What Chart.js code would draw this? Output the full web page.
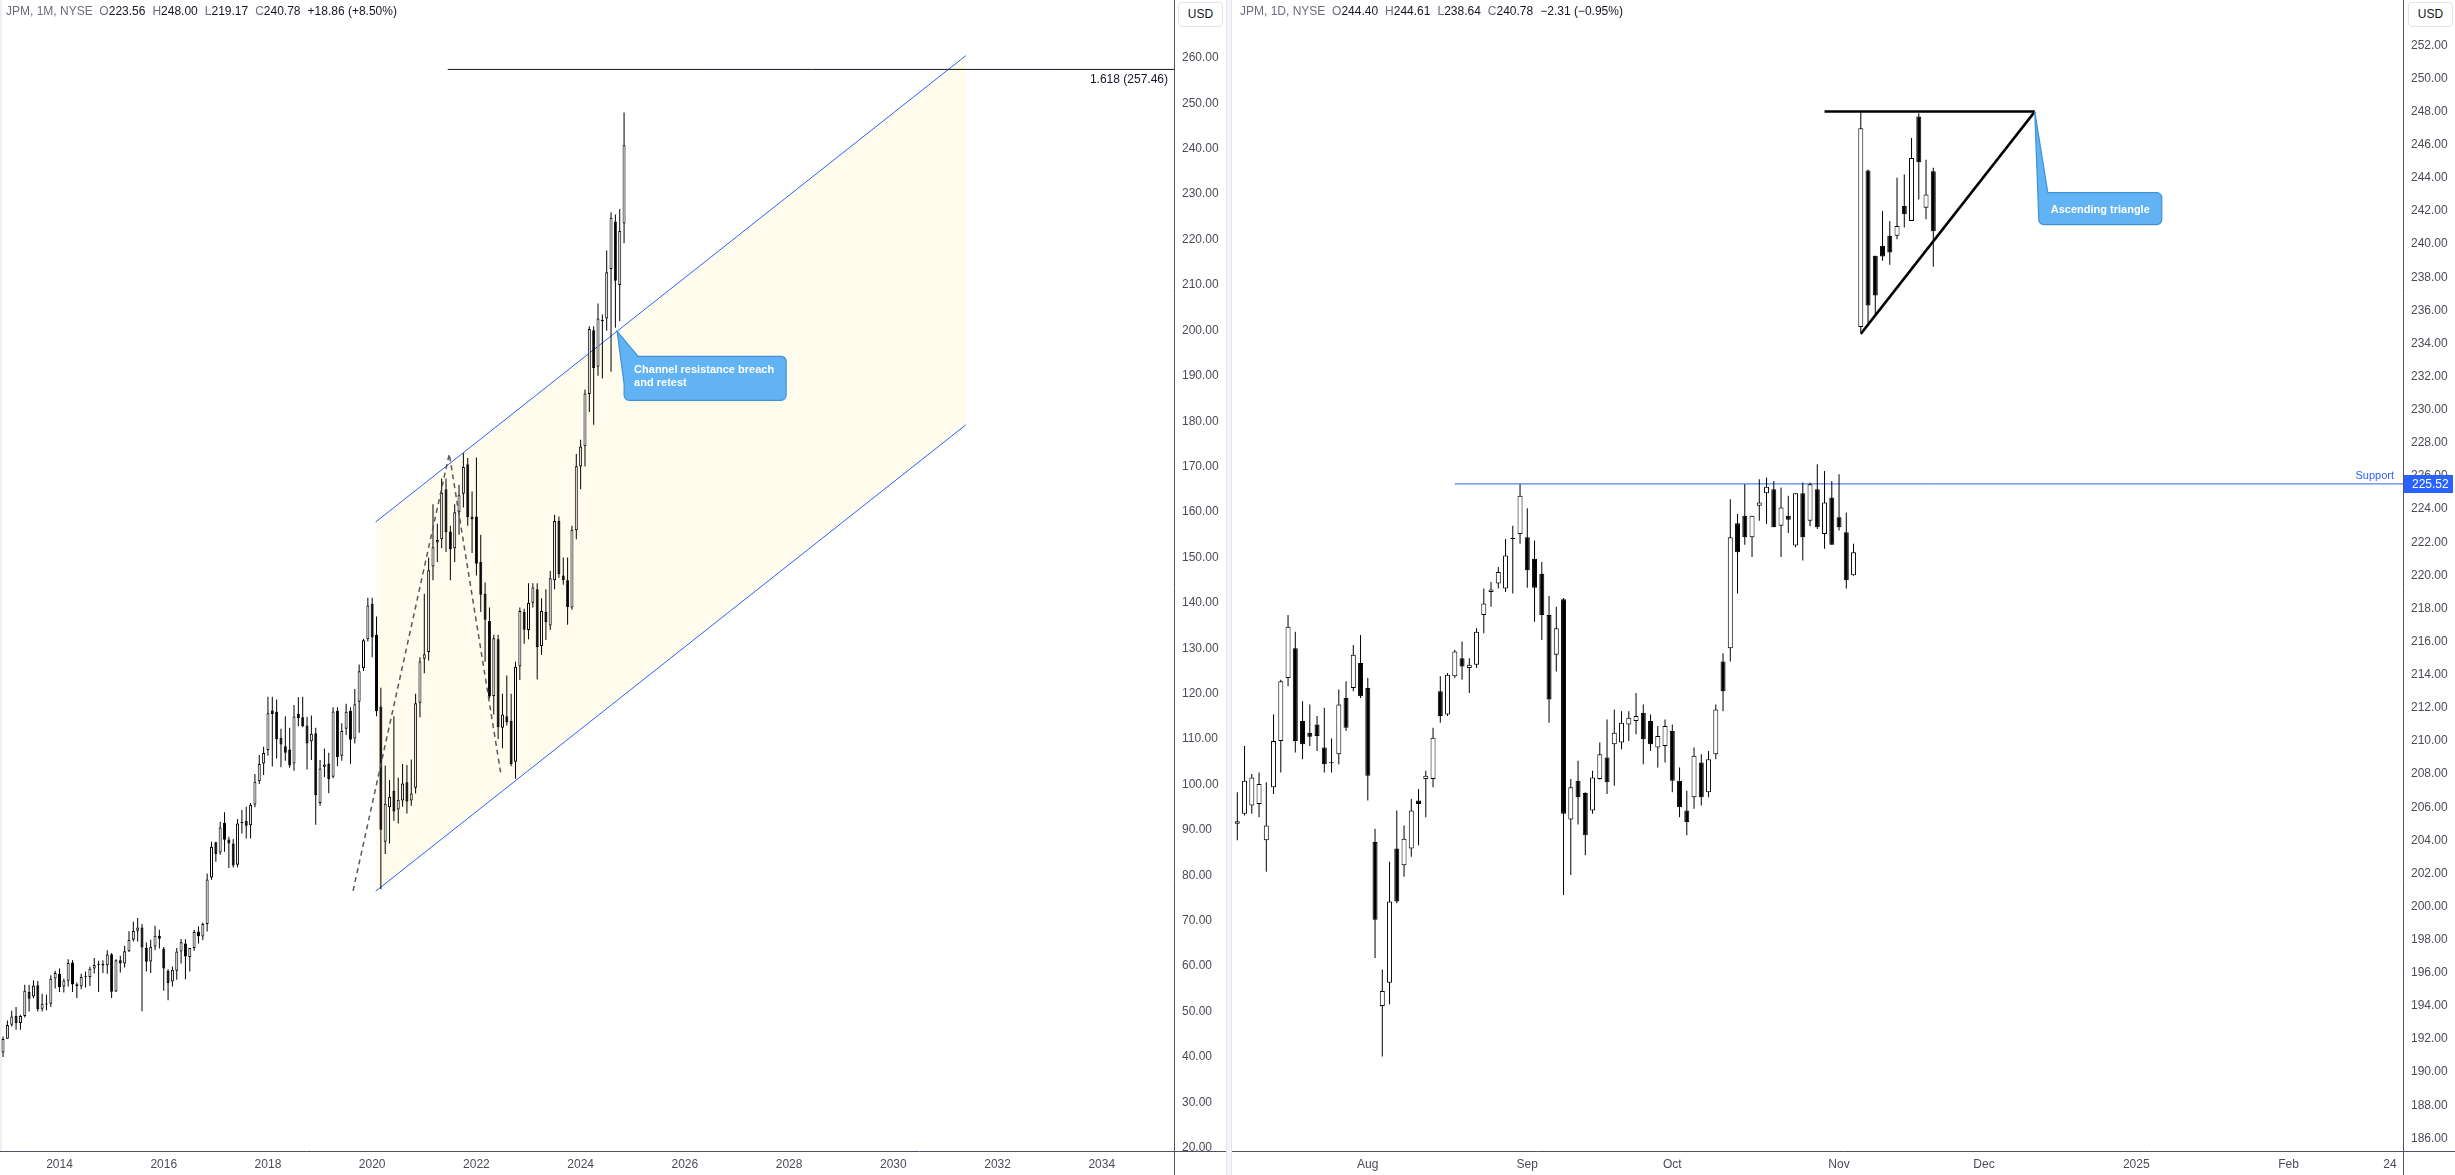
<!DOCTYPE html>
<html>
<head>
<meta charset="utf-8">
<title>JPM monthly and daily</title>
<script src="https://cdn.jsdelivr.net/npm/chart.js@4.4.1/dist/chart.umd.min.js"></script>
<style>
  html, body { margin: 0; padding: 0; background: #fff; }
  body { width: 2455px; height: 1175px; position: relative; overflow: hidden; font-family: "Liberation Sans", Arial, sans-serif; }
  canvas { position: absolute; top: 0; }
  #cLeft { left: 0; }
  #cRight { left: 1232px; }
  .sep { position: absolute; left: 1226px; top: 0; width: 4px; height: 1175px; background: #f4f5f9; border-left: 1px solid #e0e3eb; border-right: 1px solid #e0e3eb; }
  .edge { position: absolute; left: 0; top: 0; width: 2px; height: 1151px; background: #eef0f6; }
  .hdr { position: absolute; top: 4px; font-size: 12px; line-height: 14px; color: #131722; white-space: nowrap; }
  .hdr span { margin-right: 7px; }
  .hdr .g { color: #6a6d78; margin-right: 0; }
  .usd { position: absolute; top: 2px; width: 45px; height: 25px; border: 1px solid #e0e3eb; border-radius: 4px; box-sizing: border-box; font-size: 12px; line-height: 23px; text-align: center; color: #131722; background: #fff; }
</style>
</head>
<body>
<div class="edge"></div>
<div class="sep"></div>
<canvas id="cLeft" width="1226" height="1175"></canvas>
<canvas id="cRight" width="1223" height="1175"></canvas>
<div class="hdr" style="left:6px"><span class="g">JPM, 1M, NYSE</span>&nbsp; <span><b class="g" style="font-weight:normal">O</b>223.56</span><span><b class="g" style="font-weight:normal">H</b>248.00</span><span><b class="g" style="font-weight:normal">L</b>219.17</span><span><b class="g" style="font-weight:normal">C</b>240.78</span><span>+18.86 (+8.50%)</span></div>
<div class="hdr" style="left:1240px"><span class="g">JPM, 1D, NYSE</span>&nbsp; <span><b class="g" style="font-weight:normal">O</b>244.40</span><span><b class="g" style="font-weight:normal">H</b>244.61</span><span><b class="g" style="font-weight:normal">L</b>238.64</span><span><b class="g" style="font-weight:normal">C</b>240.78</span><span>&minus;2.31 (&minus;0.95%)</span></div>
<div class="usd" style="left:1178px">USD</div>
<div class="usd" style="left:2408px">USD</div>
<script>
// ---------- Monthly JPM candles, Dec 2012 to Nov 2024 ----------
const mOpen = [41.0,
  44.0,47.1,49.0,47.5,49.0,54.3,53.3,55.8,50.6,51.6,51.7,57.3,
  58.3,55.5,56.8,60.8,56.0,55.5,57.7,57.6,59.5,60.3,60.5,60.2,
  62.6,54.4,61.3,60.6,63.3,65.8,67.8,68.5,64.0,61.0,64.3,66.7,
  63.9,59.0,56.6,59.0,63.2,65.0,62.0,64.0,67.6,66.5,69.3,79.5,
  87.3,85.0,91.5,87.9,87.0,82.3,91.5,92.0,91.0,95.6,100.7,104.6,
  107.6,116.3,116.0,110.3,108.4,107.7,104.6,115.5,114.8,113.0,109.5,111.3,
  95.9,103.9,104.6,101.7,116.2,106.3,112.3,116.2,110.1,118.2,125.6,132.0,
  139.8,133.0,117.2,87.4,95.0,98.6,94.5,96.5,100.5,96.5,99.3,118.0,
  127.7,129.2,148.0,153.3,154.0,165.0,155.7,152.0,160.0,164.0,170.5,159.0,
  159.0,149.0,142.0,136.0,119.5,132.0,112.5,115.0,114.0,105.0,126.0,138.0,
  134.0,140.0,143.0,130.5,138.0,135.0,145.0,158.0,146.0,145.0,139.0,156.0,
  170.0,174.5,186.0,200.0,192.0,202.0,202.6,213.5,224.0,210.0,223.56];
const mHigh = [44.5,
  48.0,50.2,51.0,49.3,55.9,55.9,56.9,56.7,53.9,53.7,58.0,59.0,
  59.5,57.3,61.5,61.3,56.4,58.3,58.8,59.9,61.8,61.2,61.3,63.5,
  62.9,61.5,62.3,64.5,67.7,69.8,70.6,69.3,65.2,65.8,68.9,68.0,
  64.2,59.3,59.9,64.0,66.0,65.9,64.0,68.0,68.8,69.6,80.4,87.4,
  87.4,91.8,93.9,88.5,88.0,92.4,94.4,95.1,95.9,102.3,106.5,108.3,
  119.3,119.3,118.7,112.3,115.0,112.5,117.5,119.2,119.3,114.9,115.2,112.5,
  105.4,107.9,107.0,117.0,117.0,113.5,117.8,117.0,121.0,126.4,132.1,141.1,
  141.1,137.0,121.3,104.2,101.0,115.0,101.5,104.5,104.3,105.5,120.0,128.0,
  142.0,150.0,161.7,157.4,167.4,167.4,157.0,161.7,166.0,172.96,171.9,164.5,
  172.0,155.0,144.5,139.0,133.0,133.0,120.0,124.0,120.0,127.0,139.0,138.7,
  144.3,144.3,144.3,141.0,143.0,147.0,159.4,159.0,150.0,150.0,157.0,172.8,
  175.9,187.0,200.9,200.9,205.9,203.5,217.6,226.0,225.5,226.7,248.0];
const mLow = [40.0,
  44.0,46.7,46.0,46.0,48.7,50.0,52.9,50.0,50.0,50.3,51.0,55.1,
  54.3,54.2,55.5,54.3,53.0,54.9,55.3,55.6,58.4,54.3,58.5,58.3,
  52.97,54.3,58.6,59.7,63.1,65.4,65.4,50.07,58.8,58.5,63.5,63.9,
  54.6,52.5,55.5,57.0,60.6,57.1,58.8,63.4,65.0,65.7,67.6,79.0,
  83.0,84.5,85.2,81.6,81.7,81.8,89.2,88.1,88.1,95.0,100.1,102.1,
  106.3,103.98,105.7,103.8,105.2,103.7,103.0,112.8,112.6,103.3,105.4,91.11,
  95.3,101.6,98.09,101.4,104.0,105.2,110.9,104.5,109.0,111.4,125.0,131.5,
  128.0,115.0,76.91,84.7,87.0,92.0,91.4,95.1,93.6,95.3,98.0,114.8,
  124.5,127.3,145.0,149.0,152.0,151.2,145.0,149.0,155.0,161.0,157.0,151.0,
  146.0,138.0,127.0,119.0,115.4,110.0,108.0,113.0,104.0,101.28,123.0,131.0,
  132.0,139.0,123.1,128.5,131.8,134.0,143.0,145.5,144.0,135.2,138.5,154.0,
  165.0,170.0,182.0,179.2,190.0,189.4,199.9,190.9,200.6,202.0,219.17];
const mClose = [43.97,
  47.05,48.9,47.46,49.0,54.59,52.79,55.73,50.53,51.69,51.54,57.22,58.48,
  55.36,56.82,60.71,55.98,55.57,57.62,57.67,59.45,60.24,60.48,60.16,62.58,
  54.38,61.28,60.58,63.26,65.78,67.76,68.53,64.12,60.97,64.25,66.68,66.03,
  59.5,56.3,59.22,63.2,65.27,62.14,63.97,67.5,66.59,69.26,79.08,86.29,
  84.63,90.5,87.84,87.0,82.15,91.4,91.8,90.89,95.51,100.61,104.52,106.94,
  115.67,115.5,109.97,108.78,107.01,104.2,114.95,114.58,112.84,109.02,111.17,97.62,
  103.5,104.4,101.23,116.05,105.97,111.8,116.0,109.86,117.69,124.92,131.77,139.4,
  132.36,116.11,90.03,95.76,97.31,94.06,96.64,100.19,96.27,98.04,117.88,127.07,
  128.67,147.17,152.23,153.81,164.24,155.54,151.78,159.95,163.69,169.89,158.83,158.35,
  148.6,141.8,136.3,119.4,132.2,112.6,115.4,113.7,104.5,125.9,138.2,134.1,
  140.0,143.4,130.3,138.2,135.7,145.4,158.0,146.3,145.0,139.1,156.1,170.1,
  174.4,186.1,200.3,191.7,202.6,202.3,212.8,224.8,210.9,221.9,240.78];
// month slot of each candle, counted from Jan 2014 (Dec 2012 = -13)
const mSlot = mOpen.map((_, i) => i - 13);

// ---------- Daily JPM candles, 8 Jul to 20 Nov 2024 ----------
const dDates = [
  '07-08','07-09','07-10','07-11','07-12','07-15','07-16','07-17','07-18','07-19','07-22','07-23','07-24','07-25','07-26','07-29','07-30','07-31',
  '08-01','08-02','08-05','08-06','08-07','08-08','08-09','08-12','08-13','08-14','08-15','08-16','08-19','08-20','08-21','08-22','08-23','08-26','08-27','08-28','08-29','08-30',
  '09-03','09-04','09-05','09-06','09-09','09-10','09-11','09-12','09-13','09-16','09-17','09-18','09-19','09-20','09-23','09-24','09-25','09-26','09-27','09-30',
  '10-01','10-02','10-03','10-04','10-07','10-08','10-09','10-10','10-11','10-14','10-15','10-16','10-17','10-18','10-21','10-22','10-23','10-24','10-25','10-28','10-29','10-30','10-31',
  '11-01','11-04','11-05','11-06','11-07','11-08','11-11','11-12','11-13','11-14','11-15','11-18','11-19','11-20'];
const dOpen = [205.0,205.6,206.1,206.2,204.0,207.2,210.0,213.8,215.6,211.2,210.5,211.0,209.6,208.65,209.2,212.6,213.2,214.7,
  213.2,203.9,194.0,195.4,203.5,202.5,203.5,206.4,207.7,207.7,213.0,211.6,213.9,215.0,214.4,214.6,217.6,219.0,219.5,219.2,222.2,222.5,
  222.3,221.0,220.1,217.6,215.2,218.56,205.25,207.6,206.85,205.8,207.7,209.0,209.8,209.9,211.0,211.2,211.7,211.2,209.6,209.7,
  210.6,207.6,205.8,206.6,208.7,206.9,209.2,214.8,215.6,223.15,223.6,222.3,224.2,224.96,225.2,223.0,223.6,221.8,224.96,223.3,225.2,222.5,224.7,
  223.5,222.6,220.0,235.0,244.45,239.3,239.9,240.5,240.5,242.3,241.4,247.7,242.2,244.40];
const dHigh = [206.9,209.7,208.0,208.1,207.5,211.6,213.7,217.6,216.6,212.4,212.2,211.5,212.0,210.15,213.1,213.6,215.8,216.4,
  213.8,204.7,196.2,202.7,205.8,204.9,206.5,207.1,208.2,210.8,213.9,214.1,215.5,216.0,215.0,216.8,219.2,219.6,220.5,222.2,223.0,225.5,
  224.05,222.1,220.8,218.75,218.1,218.63,207.7,208.8,206.9,208.2,209.9,211.3,211.9,211.8,211.8,212.9,212.2,211.6,210.9,211.3,
  211.0,208.4,207.0,209.6,209.2,209.4,212.2,215.3,224.6,223.7,225.5,223.6,225.8,225.9,225.7,225.3,224.8,224.96,225.6,225.6,226.7,226.3,225.7,
  226.1,223.8,221.9,248.0,244.5,239.3,242.0,241.4,244.0,244.2,246.4,247.9,245.1,244.61];
const dLow = [204.0,205.5,205.6,205.4,202.1,206.8,208.1,213.3,209.3,208.9,209.7,209.4,208.1,208.1,208.6,210.6,213.0,212.6,
  206.4,196.9,190.95,194.1,200.2,201.8,203.0,203.7,205.4,207.2,211.1,211.5,213.8,213.7,212.9,214.4,216.5,218.1,219.2,219.0,218.9,221.9,
  219.25,217.2,216.1,211.1,214.2,200.7,201.9,204.95,203.1,205.6,207.66,206.8,207.3,209.5,210.0,210.4,208.6,209.4,208.4,208.7,
  206.9,205.4,204.3,205.9,206.1,206.6,208.9,211.8,214.8,218.9,221.85,221.1,223.3,223.1,222.9,221.1,222.55,221.7,220.9,222.97,222.8,221.6,221.85,
  222.7,219.2,219.97,234.7,235.2,235.7,239.0,238.75,240.3,241.0,241.4,242.7,241.5,238.64];
const dClose = [205.15,207.6,207.8,207.4,204.9,210.0,213.6,216.9,210.0,209.8,210.25,210.3,208.6,208.7,212.2,210.8,215.2,212.7,
  207.9,199.2,194.9,200.3,200.3,204.1,205.8,206.2,207.9,210.2,211.5,214.0,215.4,214.5,214.6,216.6,218.3,219.15,220.2,221.2,222.25,224.8,
  220.3,219.25,217.6,212.5,216.8,205.6,207.2,206.6,204.3,207.8,209.2,207.5,210.5,211.1,211.4,211.5,210.1,209.8,210.3,210.9,
  207.6,206.0,205.1,209.1,206.6,208.9,211.9,213.0,222.3,221.4,222.3,223.6,224.4,225.35,222.9,224.1,223.36,224.96,222.3,225.5,222.9,224.4,221.85,
  222.9,219.7,221.4,247.0,236.3,236.9,239.25,239.5,241.1,241.8,245.2,244.95,243.0,240.78];
// trading-day slot of each daily candle
const dSlot = dDates.map((_, i) => i);

// ---------- Axis ticks ----------
const leftPriceTicks = [20,30,40,50,60,70,80,90,100,110,120,130,140,150,160,170,180,190,200,210,220,230,240,250,260];
const leftTimeTicks = [0,24,48,72,96,120,144,168,192,216,240];
const leftTimeLabels = ['2014','2016','2018','2020','2022','2024','2026','2028','2030','2032','2034'];
const rightPriceTicks = [186,188,190,192,194,196,198,200,202,204,206,208,210,212,214,216,218,220,222,224,226,228,230,232,234,236,238,240,242,244,246,248,250,252];
const rightTimeTicks = [18,40,60,83,103,124,145,159];
const rightTimeLabels = ['Aug','Sep','Oct','Nov','Dec','2025','Feb','24'];

// ---------- Drawn studies ----------
const channelUpper = [{x:72.8, y:157.8}, {x:208.7, y:260.5}];
const channelLower = [{x:72.8, y:76.5}, {x:208.7, y:179.2}];
const swingPath = [{x:67.6, y:76.6}, {x:89.75, y:172.8}, {x:101.6, y:102.5}];
const fibLevel = 257.46;
const fibLine = [{x:89.4, y:fibLevel}, {x:400, y:fibLevel}];
const fibText = '1.618 (257.46)';
const retestPoint = {x:128.4, y:199.8};
const retestText = ['Channel resistance breach', 'and retest'];
const supportLevel = 225.52;
const supportLine = [{x:30, y:supportLevel}, {x:200, y:supportLevel}];
const triangleTop = [{x:81, y:248}, {x:110, y:248}];
const triangleRise = [{x:86, y:234.58}, {x:110, y:248}];
const triangleText = 'Ascending triangle';

Chart.defaults.font.family = '"Liberation Sans", Arial, sans-serif';
const AXIS_TEXT = '#4a4c55';
const LINE_BLUE = '#2962ff';

function candleSets(slots, O, H, L, C, bodyWidth) {
  const wicks = {
    type: 'bar', order: 2, grouped: false, inflateAmount: 0, minBarLength: 1,
    barThickness: 1, backgroundColor: '#000', borderWidth: 0,
    data: slots.map((x, i) => ({x, y: [L[i], H[i]]}))
  };
  const bodies = {
    type: 'bar', order: 1, grouped: false, inflateAmount: 0, minBarLength: 1,
    barThickness: bodyWidth, borderWidth: 1, borderColor: '#000', borderSkipped: false,
    backgroundColor: O.map((o, i) => C[i] >= o ? '#ffffff' : '#000000'),
    data: slots.map((x, i) => ({x, y: [Math.min(O[i], C[i]), Math.max(O[i], C[i])]}))
  };
  return [wicks, bodies];
}

function lineSet(points, color, width, order, extra) {
  return Object.assign({type: 'line', data: points, borderColor: color, borderWidth: width,
    pointRadius: 0, fill: false, order, tension: 0}, extra || {});
}

function axes(xr, yr, xTicks, xLabels, yTicks) {
  return {
    x: {
      type: 'linear', min: xr[0], max: xr[1], offset: false,
      grid: {display: false, drawTicks: false}, border: {display: false},
      ticks: {autoSkip: false, maxRotation: 0, minRotation: 0, padding: 6, color: AXIS_TEXT,
              font: {size: 12}, callback: (v, i) => xLabels[i]},
      afterBuildTicks: s => { s.ticks = xTicks.map(v => ({value: v})); },
      afterFit: s => { s.height = 24; s.paddingLeft = 0; s.paddingRight = 0; }
    },
    y: {
      type: 'linear', position: 'right', min: yr[0], max: yr[1],
      grid: {display: false, drawTicks: false}, border: {display: false},
      ticks: {padding: 8, color: AXIS_TEXT, font: {size: 12}, callback: v => v.toFixed(2)},
      afterBuildTicks: s => { s.ticks = yTicks.map(v => ({value: v})); },
      afterFit: s => { s.width = 52; s.paddingTop = 0; s.paddingBottom = 0; }
    }
  };
}

// axis frame: price-scale divider and time-scale divider
const frame = {
  id: 'frame',
  afterDraw(chart) {
    const {ctx, chartArea: a, width, height} = chart;
    ctx.save();
    ctx.fillStyle = '#fff';
    ctx.fillRect(a.right + 1, a.bottom + 1, width - a.right - 1, height - a.bottom - 1);
    ctx.strokeStyle = '#50535e';
    ctx.lineWidth = 1;
    ctx.beginPath();
    ctx.moveTo(Math.round(a.right) + 0.5, 0); ctx.lineTo(Math.round(a.right) + 0.5, height);
    ctx.moveTo(0, Math.round(a.bottom) + 0.5); ctx.lineTo(width, Math.round(a.bottom) + 0.5);
    ctx.stroke();
    ctx.restore();
  }
};

function callout(ctx, tip, box, tailTop, tailSide) {
  const {x, y, w, h} = box, r = 5;
  ctx.beginPath();
  ctx.moveTo(tip.x, tip.y);
  ctx.lineTo(x + tailTop, y);
  ctx.lineTo(x + w - r, y);
  ctx.arcTo(x + w, y, x + w, y + r, r);
  ctx.lineTo(x + w, y + h - r);
  ctx.arcTo(x + w, y + h, x + w - r, y + h, r);
  ctx.lineTo(x + r, y + h);
  ctx.arcTo(x, y + h, x, y + h - r, r);
  ctx.lineTo(x, y + tailSide);
  ctx.closePath();
  ctx.fillStyle = '#62b3f4';
  ctx.fill();
  ctx.strokeStyle = '#3d93d6';
  ctx.lineWidth = 1.2;
  ctx.stroke();
}

const leftNotes = {
  id: 'leftNotes',
  afterDatasetsDraw(chart) {
    const {ctx, scales: {x, y}, chartArea: a} = chart;
    ctx.save();
    ctx.font = '12px "Liberation Sans", Arial, sans-serif';
    ctx.fillStyle = '#131722';
    ctx.textAlign = 'right';
    ctx.textBaseline = 'middle';
    ctx.fillText(fibText, a.right - 6, y.getPixelForValue(fibLevel) + 10);

    const tip = {x: x.getPixelForValue(retestPoint.x), y: y.getPixelForValue(retestPoint.y)};
    const box = {x: tip.x + 7, y: tip.y + 25, w: 162, h: 44};
    callout(ctx, tip, box, 14, 28);
    ctx.fillStyle = '#fff';
    ctx.font = 'bold 11px "Liberation Sans", Arial, sans-serif';
    ctx.textAlign = 'left';
    ctx.fillText(retestText[0], box.x + 10, box.y + 14);
    ctx.fillText(retestText[1], box.x + 10, box.y + 27);
    ctx.restore();
  }
};

const rightNotes = {
  id: 'rightNotes',
  afterDatasetsDraw(chart) {
    const {ctx, scales: {x, y}, chartArea: a} = chart;
    ctx.save();
    const sy = y.getPixelForValue(supportLevel);
    ctx.font = '11px "Liberation Sans", Arial, sans-serif';
    ctx.fillStyle = LINE_BLUE;
    ctx.textAlign = 'right';
    ctx.textBaseline = 'middle';
    ctx.fillText('Support', a.right - 9, sy - 8);

    const apex = triangleTop[1];
    const tip = {x: x.getPixelForValue(apex.x), y: y.getPixelForValue(apex.y)};
    const box = {x: tip.x + 4, y: tip.y + 81, w: 123, h: 32};
    callout(ctx, tip, box, 9, 26);
    ctx.fillStyle = '#fff';
    ctx.font = 'bold 11px "Liberation Sans", Arial, sans-serif';
    ctx.textAlign = 'center';
    ctx.fillText(triangleText, box.x + box.w / 2, box.y + box.h / 2 + 1);
    ctx.restore();
  },
  afterDraw(chart) {
    const {ctx, scales: {y}, chartArea: a, width} = chart;
    const sy = y.getPixelForValue(supportLevel);
    ctx.save();
    ctx.fillStyle = LINE_BLUE;
    ctx.fillRect(a.right + 1, Math.round(sy) - 9, width - a.right - 3, 18);
    ctx.fillStyle = '#fff';
    ctx.font = '12px "Liberation Sans", Arial, sans-serif';
    ctx.textAlign = 'left';
    ctx.textBaseline = 'middle';
    ctx.fillText(supportLevel.toFixed(2), a.right + 9, Math.round(sy) + 0.5);
    ctx.restore();
  }
};

const common = {
  responsive: false, animation: false, devicePixelRatio: 1, events: [],
  layout: {padding: 0},
  plugins: {legend: {display: false}, tooltip: {enabled: false}}
};

new Chart(document.getElementById('cLeft'), {
  type: 'bar',
  data: {
    datasets: [
      lineSet(channelUpper, LINE_BLUE, 1, 5),
      lineSet(channelLower, LINE_BLUE, 1, 5, {fill: '-1', backgroundColor: 'rgba(255, 232, 120, 0.13)'}),
      ...candleSets(mSlot, mOpen, mHigh, mLow, mClose, 3),
      lineSet(swingPath, '#555860', 1.5, 0, {borderDash: [5, 4]}),
      lineSet(fibLine, '#131722', 1, 0)
    ]
  },
  options: Object.assign({}, common, {
    scales: axes([-13.70, 256.63], [19.29, 272.75], leftTimeTicks, leftTimeLabels, leftPriceTicks)
  }),
  plugins: [leftNotes, frame]
});

new Chart(document.getElementById('cRight'), {
  type: 'bar',
  data: {
    datasets: [
      lineSet(supportLine, LINE_BLUE, 1, 5),
      ...candleSets(dSlot, dOpen, dHigh, dLow, dClose, 5),
      lineSet(triangleTop, '#000', 2.5, 0),
      lineSet(triangleRise, '#000', 2.5, 0)
    ]
  },
  options: Object.assign({}, common, {
    scales: axes([-0.731, 160.79], [185.24, 254.74], rightTimeTicks, rightTimeLabels, rightPriceTicks)
  }),
  plugins: [rightNotes, frame]
});
</script>
</body>
</html>
